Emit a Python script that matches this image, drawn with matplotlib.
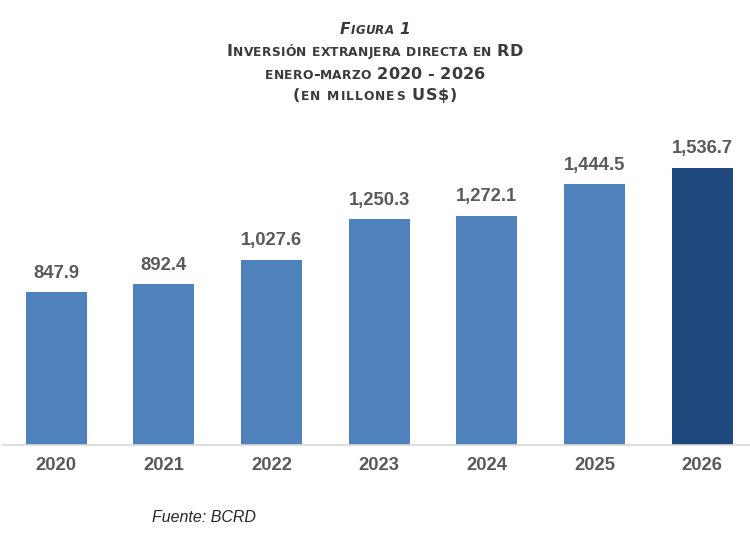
import matplotlib
matplotlib.use("Agg")
import matplotlib.pyplot as plt

plt.rcParams['font.family'] = ['Liberation Sans', 'DejaVu Sans']

years = ['2020', '2021', '2022', '2023', '2024', '2025', '2026']
values = [847.9, 892.4, 1027.6, 1250.3, 1272.1, 1444.5, 1536.7]
colors = ['#4F81BD'] * 6 + ['#1F497D']

title_lines = ['Figura 1',
               'Inversión extranjera directa en RD',
               'enero-marzo 2020 - 2026',
               '(en millones US$)']

fig = plt.figure(figsize=(7.5, 5.36), dpi=100)
W, H = 750, 536

ax = fig.add_axes([2.5 / W, 1 - 445 / H, 7 * 107.65 / W, 307 / H])
bars = ax.bar(years, values, 0.567, color=colors, zorder=2)
ax.set_xlim(-0.5, 6.5)
ax.set_ylim(0, 1702)
ax.bar_label(bars, labels=[f'{v:,.1f}' for v in values], padding=7.5,
             fontsize=13.2, fontweight='bold', color='#595959')

for s in ['top', 'left', 'right']:
    ax.spines[s].set_visible(False)
ax.spines['bottom'].set_color('#D9D9D9')
ax.spines['bottom'].set_linewidth(1.2)
ax.set_yticks([])
ax.tick_params(axis='x', length=0, pad=9, labelsize=13.2, labelcolor='#595959')
for t in ax.get_xticklabels():
    t.set_fontweight('bold')


# small caps title, one character at a time so the line can be spread out
renderer = fig.canvas.get_renderer()


def small_caps(text, y_px, big, small, width_px, italic=False):
    objs = []
    total = 0
    for ch in text:
        size = small if ch.islower() else big
        t = fig.text(0, 1 - y_px / H, ch.upper(), fontsize=size, fontweight='bold',
                     family='DejaVu Sans', style='italic' if italic else 'normal',
                     color='#3A3A3A', va='baseline', ha='left')
        w = t.get_window_extent(renderer).width
        if ch == ' ':
            w = size * 0.32 * 100 / 72
        objs.append((t, w))
        total += w
    track = (width_px - total) / max(1, len(objs) - 1)
    x = (W - width_px) / 2
    for t, w in objs:
        t.set_x(x / W)
        x += w + track


small_caps(title_lines[0], 34.3, 11.2, 8.6, 70, italic=True)
small_caps(title_lines[1], 56, 11.6, 8.8, 296)
small_caps(title_lines[2], 79, 11.6, 8.8, 220)
small_caps(title_lines[3], 100, 11.6, 8.8, 165)

fig.text(152 / W, 1 - 517 / H, 'Fuente: BCRD', fontsize=11.5, style='italic',
         color='#262626', va='center', ha='left')

fig.savefig('out.png', dpi=100)
